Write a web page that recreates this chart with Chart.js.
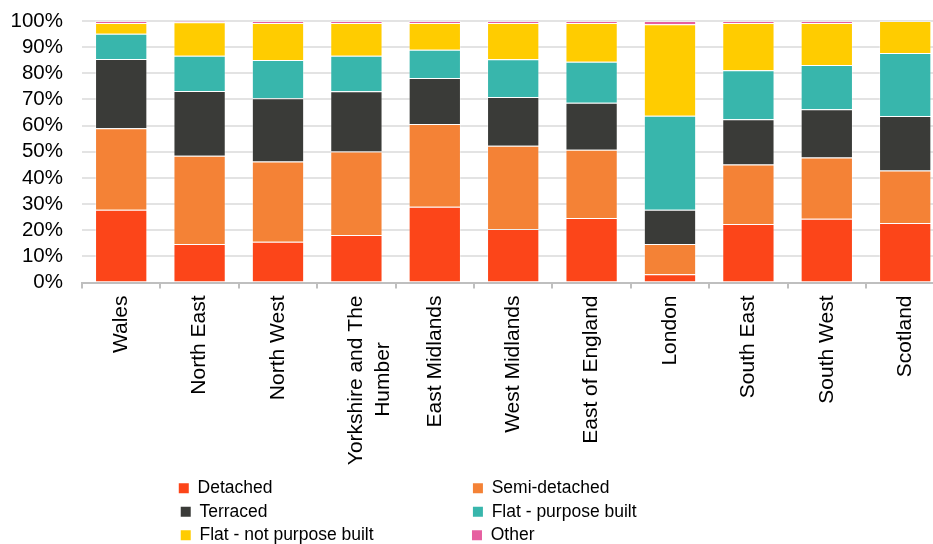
<!DOCTYPE html>
<html><head><meta charset="utf-8">
<script src="https://cdn.jsdelivr.net/npm/chart.js@4.4.0/dist/chart.umd.min.js"></script>
<style>
html,body{margin:0;padding:0;overflow:hidden;background:#fff;width:933px;height:544px}
#wrap{position:absolute;left:0;top:0;width:950px;height:554px}
</style>
</head><body><div id="wrap"><canvas id="c" width="950" height="554"></canvas></div>
<script>
const categories = ['Wales','North East','North West',['Yorkshire and The','Humber'],'East Midlands','West Midlands','East of England','London','South East','South West','Scotland'];
const seriesNames = ['Detached','Semi-detached','Terraced','Flat - purpose built','Flat - not purpose built','Other'];
const seriesColors = ['#FC4519','#F48236','#3A3B38','#38B6AC','#FFCC00','#E65FA0'];
const detached      = [27.8,14.7,15.6,18.2,29.0,20.5,24.7, 3.2,22.4,24.4,22.8];
const semiDetached  = [31.2,33.8,30.7,31.9,31.6,31.8,26.1,11.5,22.7,23.4,20.0];
const terraced      = [26.5,24.7,24.2,23.0,17.6,18.6,17.9,13.1,17.3,18.5,20.9];
const flatPurpose   = [ 9.6,13.5,14.6,13.6,10.8,14.5,15.7,36.0,18.8,16.9,24.1];
const flatNotPurpose= [ 4.1,12.8,14.1,12.5,10.2,13.8,14.8,35.0,18.0,16.0,12.2];
const other         = [ 0.8, 0.5, 0.8, 0.8, 0.8, 0.8, 0.8, 1.2, 0.8, 0.8, 0.0];
const yTickStep = 10;
const yMax = 100;

const FAMILY = '"Liberation Sans", Arial, sans-serif';
const mctx = document.createElement('canvas').getContext('2d');
function padTo(text, px, size){
  mctx.font = size + 'px ' + FAMILY;
  let s = text;
  while (Math.abs(mctx.measureText(s + ' ').width - px) < Math.abs(mctx.measureText(s).width - px)) s += ' ';
  return s;
}
function centerSecondLine(lines, size){
  mctx.font = size + 'px ' + FAMILY;
  const w0 = mctx.measureText(lines[0]).width, w1 = mctx.measureText(lines[1]).width;
  return [lines[0], padTo(lines[1], w1 + (w0 - w1)/2, size)];
}
const xLabels = categories.map(c => Array.isArray(c) ? centerSecondLine(c, 21) : c);

const allSeries = [detached, semiDetached, terraced, flatPurpose, flatNotPurpose, other];
const datasets = allSeries.map((d,i)=>({
  label: seriesNames[i], data: d, backgroundColor: seriesColors[i],
  borderColor: 'rgba(255,255,255,0.35)', borderWidth: 1,
  categoryPercentage: 1.0, barPercentage: 0.667
}));

new Chart(document.getElementById('c'), {
  type: 'bar',
  data: { labels: xLabels, datasets },
  options: {
    responsive: false, animation: false, devicePixelRatio: 1,
    layout: { padding: { top: 21, right: 5.6, left: 0, bottom: 0 } },
    plugins: {
      tooltip: { enabled: false },
      legend: {
        position: 'bottom', fullSize: false, align: 'center',
        labels: {
          boxWidth: 10, boxHeight: 10, padding: 6, color: '#000',
          font: { size: 17.5, family: FAMILY },
          generateLabels: (chart) => {
            const items = Chart.defaults.plugins.legend.labels.generateLabels(chart);
            items.forEach((it, i) => { it.text = padTo(it.text, i % 2 === 0 ? 267 : 356, 17.5); it.lineWidth = 0; });
            return items;
          }
        }
      }
    },
    scales: {
      x: {
        stacked: true,
        grid: { drawOnChartArea: false, drawTicks: true, tickLength: 6, color: '#bfbfbf', lineWidth: 2 },
        border: { display: true, color: '#bfbfbf', width: 2 },
        ticks: { minRotation: 90, maxRotation: 90, autoSkip: false, padding: 7, color: '#000',
                 font: { size: 21, family: FAMILY, lineHeight: 1.27 } },
        afterFit: (s) => { s.height = 191; }
      },
      y: {
        stacked: true, min: 0, max: yMax,
        grid: { color: '#e3e3e3', lineWidth: 2, drawTicks: true, tickLength: 19, tickColor: 'rgba(0,0,0,0)' },
        border: { display: false },
        ticks: { stepSize: yTickStep, maxTicksLimit: 11, autoSkip: false, padding: 0, color: '#000',
                 font: { size: 20.5, family: FAMILY, lineHeight: 1.0 },
                 callback: v => v + '%' },
        afterFit: (s) => { s.width = 82; }
      }
    }
  }
});
</script>
</body></html>
